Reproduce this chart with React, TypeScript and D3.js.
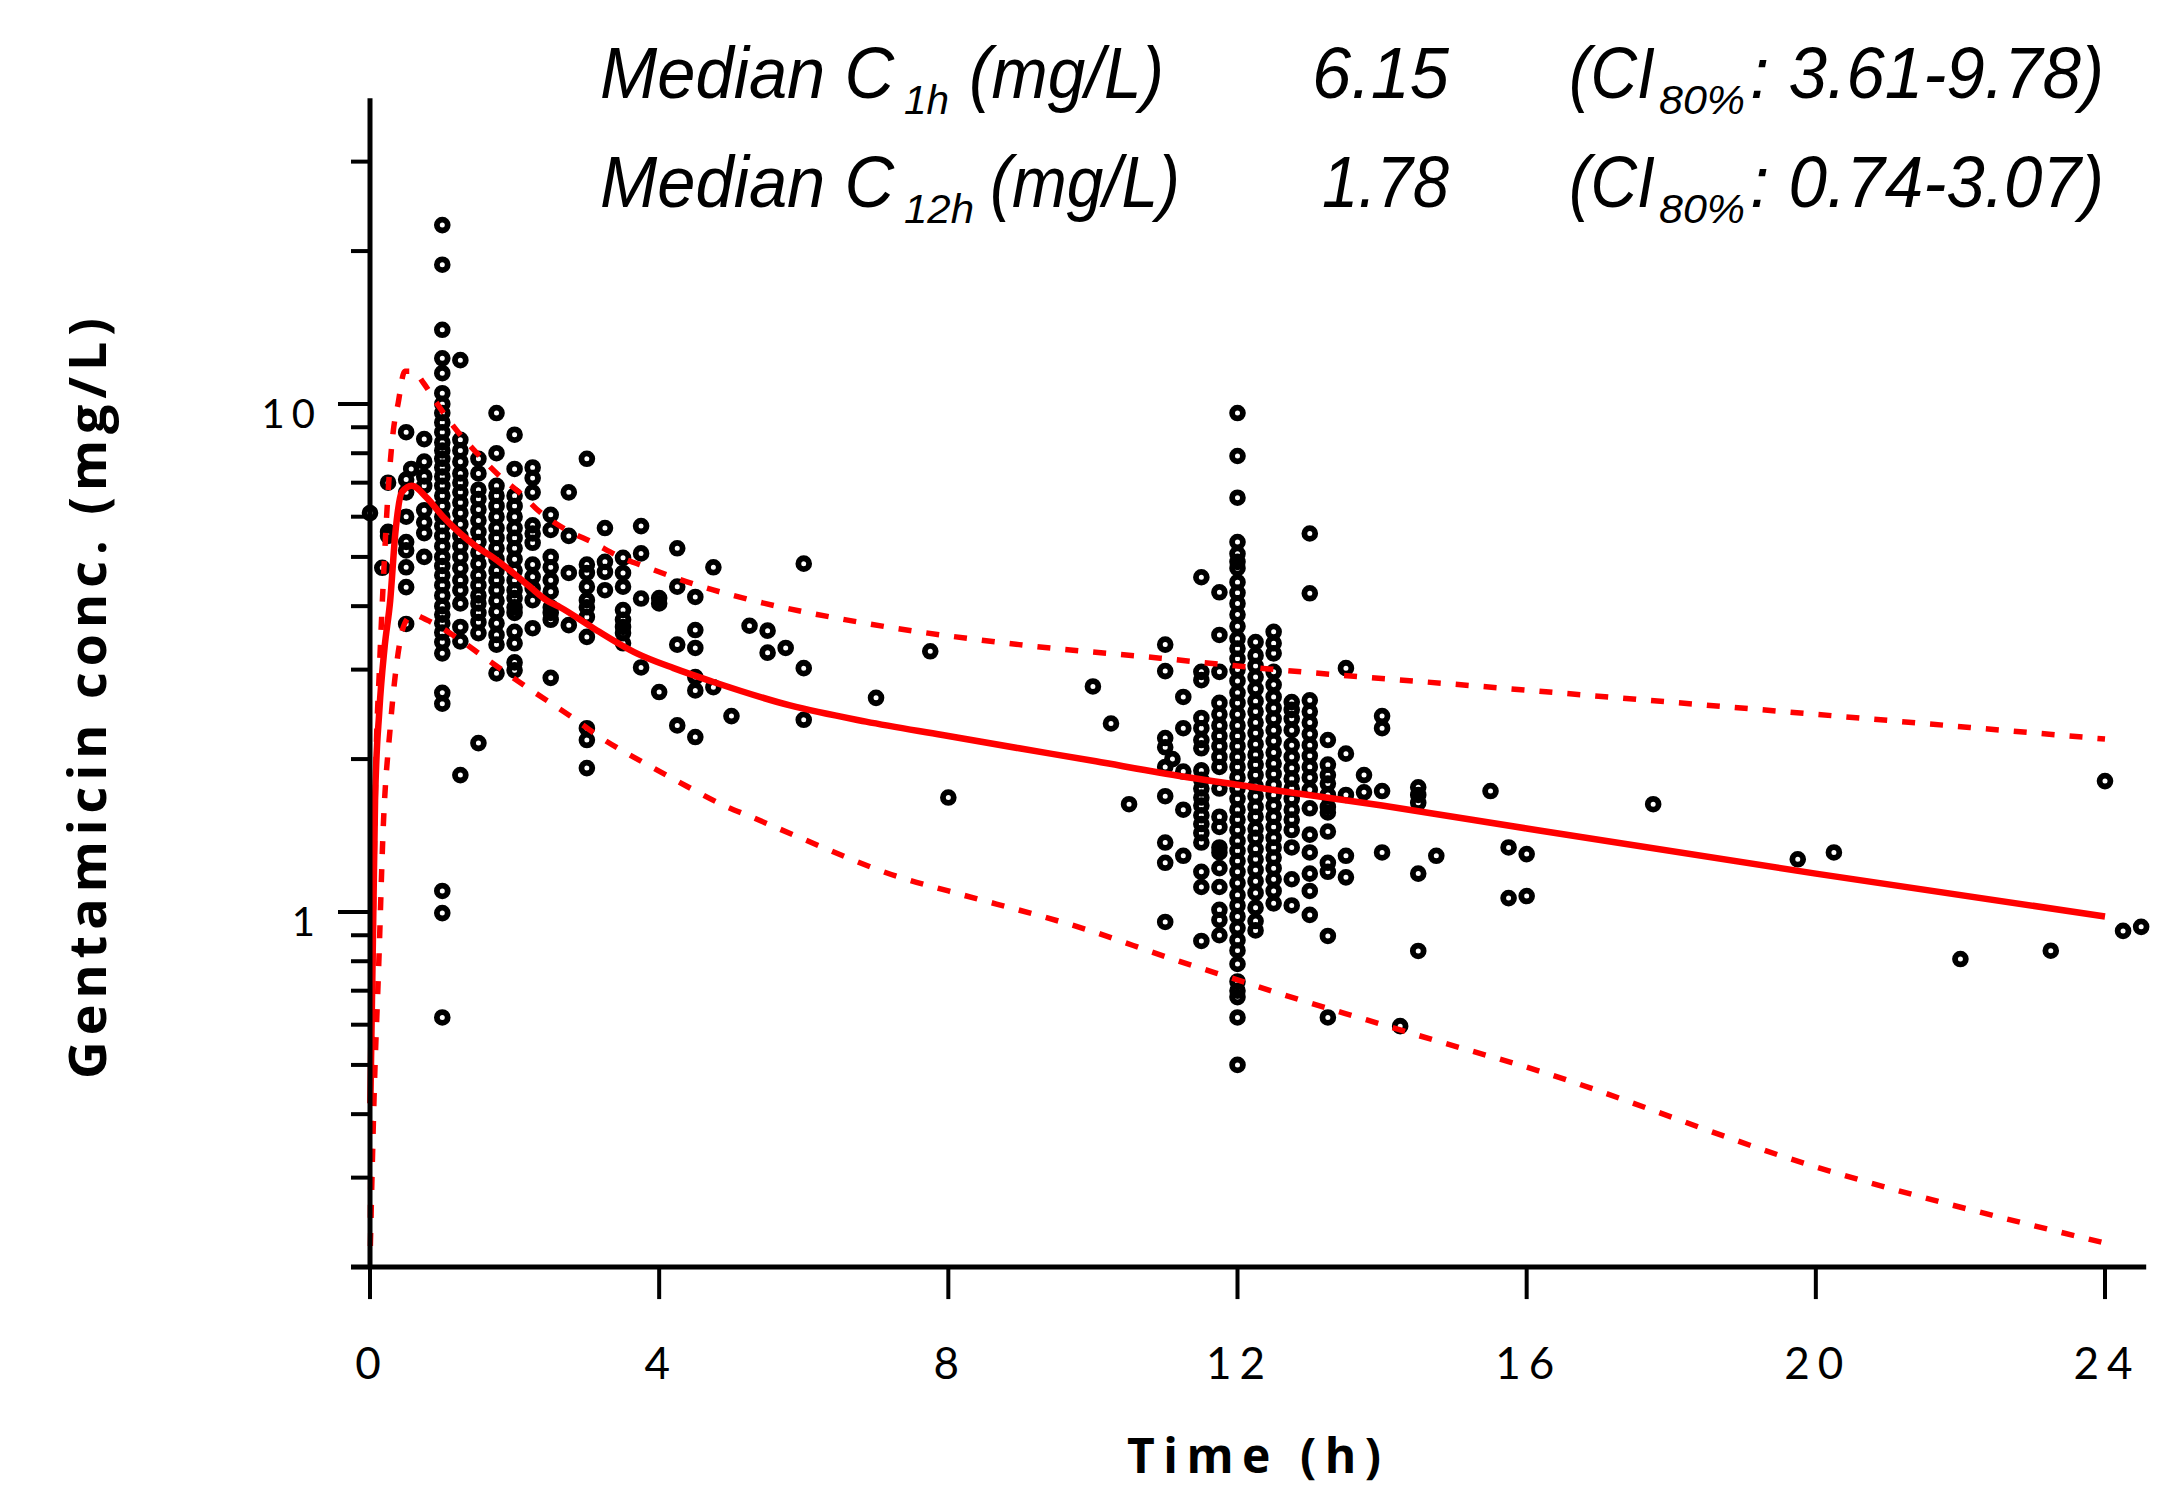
import React from "react";
import * as d3 from "d3";

// axis ticks
const timeTicks = [0, 4, 8, 12, 16, 20, 24];
const concLabelTicks = [1, 10];
const concMinorTicks = [0.2, 0.3, 0.4, 0.5, 0.6, 0.7, 0.8, 0.9, 2, 3, 4, 5, 6, 7, 8, 9, 20, 30];

// summary text rows
const summarySubs = ["1h", "12h"];
const summaryValues = ["6.15", "1.78"];
const summaryRanges = ["3.61-9.78", "0.74-3.07"];

// simulated median and 80% interval (time h, conc mg/L)
const medianCurve: [number, number][] = [
  [0.005, 0.42], [0.07, 1.66], [0.13, 2.5], [0.2, 3.3], [0.28, 4.11], [0.35, 5.56],
  [0.44, 6.7], [0.58, 6.9], [0.78, 6.55], [1.01, 6.0], [1.25, 5.56], [1.48, 5.23],
  [1.71, 4.98], [1.98, 4.65], [2.21, 4.37], [2.44, 4.11], [2.63, 3.98], [3.09, 3.62],
  [3.69, 3.23], [4.2, 3.02], [4.74, 2.84], [5.81, 2.55], [6.86, 2.37], [7.92, 2.23],
  [8.98, 2.1], [10.04, 1.98], [10.93, 1.88], [12, 1.78], [14, 1.62], [16, 1.46],
  [20, 1.19], [24, 0.98],
];
const upperCurve: [number, number][] = [
  [0.005, 0.25], [0.04, 0.8], [0.08, 1.9], [0.13, 3.0], [0.18, 4.35], [0.25, 6.7],
  [0.32, 8.8], [0.39, 10.05], [0.48, 11.6], [0.6, 11.6], [0.74, 11.0], [0.92, 10.05],
  [1.2, 8.87], [1.48, 8.0], [1.8, 7.2], [2.08, 6.67], [2.35, 6.13], [2.72, 5.65],
  [3.09, 5.33], [3.46, 5.0], [3.83, 4.77], [4.48, 4.42], [5.25, 4.12], [6.86, 3.7],
  [8.98, 3.36], [10.93, 3.16], [12, 3.05], [15.64, 2.76], [20, 2.45], [24, 2.19],
];
const lowerCurve: [number, number][] = [
  [0.005, 0.22], [0.06, 0.45], [0.12, 0.78], [0.18, 1.43], [0.28, 2.31], [0.37, 3.09],
  [0.48, 3.7], [0.6, 3.85], [0.78, 3.76], [1.25, 3.43], [1.57, 3.18], [2.17, 2.77],
  [2.79, 2.42], [3.18, 2.21], [3.78, 1.97], [4.22, 1.82], [4.94, 1.61], [5.27, 1.54],
  [5.95, 1.4], [7.33, 1.17], [8, 1.1], [10, 0.915], [11.02, 0.815], [12, 0.735],
  [12.87, 0.671], [13.79, 0.613], [14.71, 0.56], [16, 0.495], [20, 0.315], [24, 0.223],
];

// observed concentrations grouped by sampling time
const observed: [number, number[]][] = [
  [0, [6.1]],
  [0.17, [4.76]],
  [0.25, [7.0, 5.6, 5.5]],
  [0.5, [8.8, 7.1, 6.7, 6.0, 5.35, 5.15, 4.77, 4.36, 3.69]],
  [0.57, [7.45]],
  [0.75, [8.53, 7.7, 7.2, 6.9, 6.18, 5.85, 5.57, 5.0]],
  [1.0, [22.5, 18.8, 14.0, 12.3, 11.5, 10.5, 10.0, 9.6, 9.2, 8.8, 8.4, 8.1, 7.8, 7.5, 7.2, 6.9, 6.6, 6.3, 6.0, 5.75, 5.5, 5.25, 5.0, 4.8, 4.6, 4.4, 4.2, 4.0, 3.85, 3.7, 3.55, 3.4, 3.23, 2.7, 2.57, 1.1, 0.995, 0.62]],
  [1.25, [12.2, 8.5, 8.1, 7.7, 7.3, 7.0, 6.7, 6.4, 6.1, 5.8, 5.5, 5.25, 5.0, 4.75, 4.5, 4.3, 4.05, 3.64, 3.41, 1.86]],
  [1.5, [7.8, 7.3, 6.78, 6.5, 6.2, 5.9, 5.6, 5.35, 5.1, 4.85, 4.6, 4.4, 4.2, 4.05, 3.88, 3.72, 3.54, 2.15]],
  [1.75, [9.6, 8.0, 6.9, 6.6, 6.3, 6.0, 5.7, 5.45, 5.2, 4.95, 4.7, 4.5, 4.3, 4.1, 3.9, 3.7, 3.51, 3.36, 2.95]],
  [2.0, [8.7, 7.45, 6.6, 6.3, 6.0, 5.7, 5.45, 5.2, 4.95, 4.7, 4.5, 4.3, 4.15, 3.98, 3.88, 3.56, 3.38, 3.1, 2.99]],
  [2.25, [7.5, 7.15, 6.7, 5.77, 5.56, 5.33, 4.83, 4.57, 4.34, 4.11, 3.62]],
  [2.5, [6.05, 5.65, 5.0, 4.77, 4.5, 4.27, 3.98, 3.88, 3.76, 2.89]],
  [2.75, [6.7, 5.5, 4.65, 3.67]],
  [3.0, [7.8, 4.83, 4.65, 4.37, 4.11, 3.98, 3.81, 3.48, 2.3, 2.18, 1.92]],
  [3.25, [5.7, 4.89, 4.67, 4.3]],
  [3.5, [4.98, 4.65, 4.37, 3.93, 3.76, 3.64, 3.54, 3.38]],
  [3.75, [5.75, 5.08, 4.14, 3.03]],
  [4.0, [4.15, 4.05, 2.71]],
  [4.25, [5.2, 4.37, 3.36, 2.33]],
  [4.5, [4.17, 3.59, 3.31, 2.9, 2.73, 2.21]],
  [4.75, [4.77, 2.77]],
  [5.0, [2.43]],
  [5.25, [3.66]],
  [5.5, [3.58, 3.24]],
  [5.75, [3.31]],
  [6.0, [4.85, 3.02, 2.39]],
  [7.0, [2.64]],
  [7.75, [3.26]],
  [8.0, [1.68]],
  [10.0, [2.78]],
  [10.25, [2.35]],
  [10.5, [1.63]],
  [11.0, [3.36, 2.98, 2.2, 2.11, 1.93, 1.69, 1.37, 1.25, 0.956]],
  [11.1, [2.0]],
  [11.25, [2.65, 2.3, 1.89, 1.59, 1.29]],
  [11.5, [4.56, 2.97, 2.86, 2.41, 2.3, 2.18, 2.1, 1.9, 1.82, 1.75, 1.68, 1.62, 1.55, 1.49, 1.43, 1.37, 1.2, 1.12, 0.877]],
  [11.75, [4.26, 3.51, 2.97, 2.58, 2.45, 2.33, 2.22, 2.12, 2.02, 1.93, 1.75, 1.54, 1.47, 1.34, 1.31, 1.22, 1.12, 1.01, 0.964, 0.9]],
  [12.0, [9.6, 7.9, 6.54, 5.35, 5.07, 4.89, 4.75, 4.46, 4.25, 4.05, 3.85, 3.65, 3.45, 3.3, 3.15, 3.0, 2.85, 2.7, 2.58, 2.45, 2.33, 2.22, 2.12, 2.02, 1.93, 1.84, 1.75, 1.67, 1.59, 1.52, 1.45, 1.38, 1.32, 1.26, 1.2, 1.14, 1.08, 1.03, 0.98, 0.93, 0.88, 0.84, 0.79, 0.73, 0.7, 0.68, 0.62, 0.5]],
  [12.25, [3.4, 3.2, 3.05, 2.9, 2.75, 2.6, 2.48, 2.36, 2.25, 2.14, 2.04, 1.95, 1.86, 1.77, 1.69, 1.61, 1.54, 1.46, 1.4, 1.33, 1.27, 1.21, 1.15, 1.09, 1.02, 0.96, 0.92]],
  [12.5, [3.56, 3.38, 3.23, 2.97, 2.8, 2.65, 2.52, 2.4, 2.28, 2.17, 2.06, 1.96, 1.87, 1.78, 1.7, 1.62, 1.54, 1.47, 1.4, 1.34, 1.28, 1.22, 1.16, 1.1, 1.04]],
  [12.75, [2.59, 2.5, 2.4, 2.28, 2.13, 2.02, 1.92, 1.83, 1.75, 1.67, 1.59, 1.52, 1.45, 1.34, 1.16, 1.03]],
  [13.0, [5.56, 4.24, 2.61, 2.48, 2.36, 2.24, 2.13, 2.03, 1.93, 1.84, 1.74, 1.6, 1.42, 1.31, 1.19, 1.1, 0.987]],
  [13.25, [2.18, 1.95, 1.86, 1.79, 1.7, 1.61, 1.57, 1.44, 1.25, 1.2, 0.897, 0.62]],
  [13.5, [3.02, 2.05, 1.7, 1.29, 1.17]],
  [13.75, [1.86, 1.72]],
  [14.0, [2.43, 2.3, 1.73, 1.31]],
  [14.25, [0.596]],
  [14.5, [1.76, 1.7, 1.64, 1.19, 0.838]],
  [14.75, [1.29]],
  [15.5, [1.73]],
  [15.75, [1.34, 1.065]],
  [16.0, [1.3, 1.075]],
  [17.75, [1.63]],
  [19.75, [1.27]],
  [20.25, [1.31]],
  [22.0, [0.808]],
  [23.25, [0.839]],
  [24.0, [1.81]],
  [24.25, [0.918]],
  [24.5, [0.935]],
];

const labelFont = "Lato, 'Open Sans', sans-serif";
const titleFont = "'Open Sans', 'Noto Sans', sans-serif";
const noteFont = "'Liberation Sans', Arial, sans-serif";

export default function App() {
  const x = d3.scaleLinear().domain([0, 24]).range([370, 2105]);
  const y = d3.scaleLog().domain([1, 10]).range([912, 404]);

  const yTop = y(40);
  const yBottom = y(0.2);
  const xEnd = x(24.57);

  const line = d3
    .line<[number, number]>()
    .x((d) => x(d[0]))
    .y((d) => y(d[1]))
    .curve(d3.curveMonotoneX);

  const points = observed.flatMap(([t, cs]) => cs.map((c) => [t, c] as [number, number]));

  return (
    <svg
      width={2173}
      height={1489}
      style={{ position: "absolute", left: 0, top: 0, display: "block", background: "#fff" }}
    >
      <rect width={2173} height={1489} fill="#fff" />

      {/* observations */}
      <g fill="none" stroke="#000" strokeWidth={5.8}>
        {points.map((p, i) => (
          <circle key={i} cx={x(p[0])} cy={y(p[1])} r={5.4} />
        ))}
      </g>

      {/* prediction lines */}
      <path d={line(upperCurve) || ""} fill="none" stroke="#ff0000" strokeWidth={5.5} strokeDasharray="13 15" />
      <path d={line(lowerCurve) || ""} fill="none" stroke="#ff0000" strokeWidth={5.5} strokeDasharray="13 15" />
      <path d={line(medianCurve) || ""} fill="none" stroke="#ff0000" strokeWidth={6.5} />

      {/* y axis */}
      <g stroke="#000">
        <line x1={x(0)} x2={x(0)} y1={yTop} y2={yBottom + 2} strokeWidth={5} />
        {concMinorTicks.map((v) => (
          <line key={v} x1={x(0) - 19} x2={x(0)} y1={y(v)} y2={y(v)} strokeWidth={4} />
        ))}
        {concLabelTicks.map((v) => (
          <line key={v} x1={x(0) - 32} x2={x(0)} y1={y(v)} y2={y(v)} strokeWidth={4} />
        ))}
      </g>
      <g fontFamily={labelFont} fontSize={40} textAnchor="end" letterSpacing={7} fill="#000">
        {concLabelTicks.map((v) => (
          <text key={v} x={x(0) - 48} y={y(v) + 24}>
            {d3.format("d")(v)}
          </text>
        ))}
      </g>

      {/* x axis */}
      <g stroke="#000">
        <line x1={x(0) - 19} x2={xEnd} y1={yBottom} y2={yBottom} strokeWidth={5} />
        {timeTicks.map((t) => (
          <line key={t} x1={x(t)} x2={x(t)} y1={yBottom} y2={yBottom + 32} strokeWidth={4} />
        ))}
      </g>
      <g fontFamily={labelFont} fontSize={44} textAnchor="middle" letterSpacing={8} fill="#000">
        {timeTicks.map((t) => (
          <text key={t} x={x(t) + 2} y={yBottom + 112}>
            {t}
          </text>
        ))}
      </g>

      {/* axis titles */}
      <text
        x={1127}
        y={1473}
        fontFamily={titleFont}
        fontWeight="bold"
        fontSize={48}
        textLength={254}
        lengthAdjust="spacing"
      >
        Time (h)
      </text>
      <text
        transform="translate(106,1079) rotate(-90)"
        x={0}
        y={0}
        fontFamily={titleFont}
        fontWeight="bold"
        fontSize={52}
        textLength={761}
        lengthAdjust="spacing"
      >
        Gentamicin conc. (mg/L)
      </text>

      {/* summary statistics */}
      <g fontFamily={noteFont} fontStyle="italic" fill="#000" fontSize={72}>
        {summaryValues.map((value, i) => {
          const base = i === 0 ? 98 : 207;
          const sub = base + 16;
          const twoDigit = summarySubs[i].length > 2;
          return (
            <g key={i}>
              <text x={600} y={base} textLength={294} lengthAdjust="spacingAndGlyphs">
                Median C
              </text>
              <text
                x={904}
                y={sub}
                fontSize={40}
                textLength={twoDigit ? 70 : 45}
                lengthAdjust="spacingAndGlyphs"
              >
                {summarySubs[i]}
              </text>
              <text
                x={twoDigit ? 990 : 969}
                y={base}
                textLength={twoDigit ? 190 : 195}
                lengthAdjust="spacingAndGlyphs"
              >
                (mg/L)
              </text>
              <text
                x={1449}
                y={base}
                textAnchor="end"
                textLength={i === 0 ? 137 : 127}
                lengthAdjust="spacingAndGlyphs"
              >
                {value}
              </text>
              <text x={1569} y={base} textLength={86} lengthAdjust="spacingAndGlyphs">
                (CI
              </text>
              <text x={1659} y={sub} fontSize={40} textLength={86} lengthAdjust="spacingAndGlyphs">
                80%
              </text>
              <text x={1750} y={base} textLength={354} lengthAdjust="spacingAndGlyphs">
                {": " + summaryRanges[i] + ")"}
              </text>
            </g>
          );
        })}
      </g>
    </svg>
  );
}
